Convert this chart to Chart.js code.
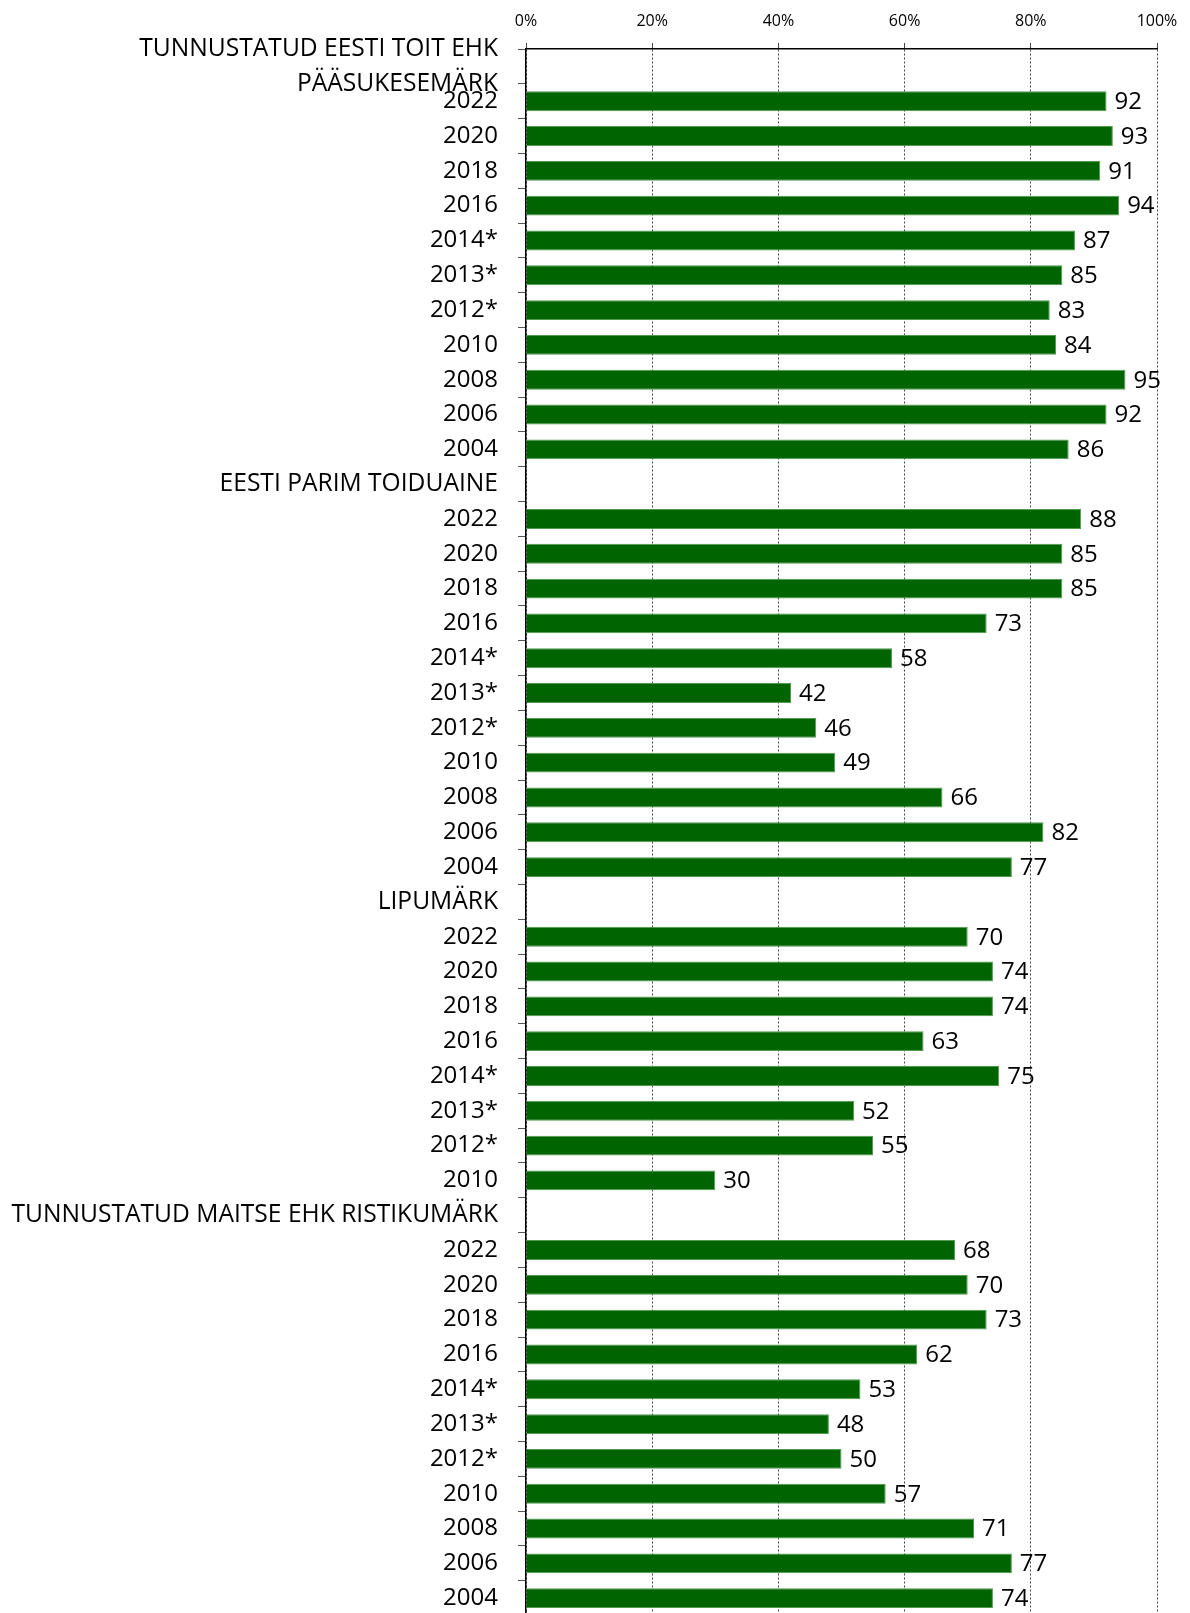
<!DOCTYPE html>
<html>
<head>
<meta charset="utf-8">
<script src="https://cdn.jsdelivr.net/npm/chart.js@4.4.1/dist/chart.umd.min.js"></script>
<style>
html,body{margin:0;padding:0;overflow:hidden;background:#fff;}
canvas{display:block;}
</style>
</head>
<body>
<canvas id="c" width="1190" height="1670"></canvas>
<script>
// Group headers
const groupNames = [
  ["TUNNUSTATUD EESTI TOIT EHK", "PÄÄSUKESEMÄRK"],
  "EESTI PARIM TOIDUAINE",
  "LIPUMÄRK",
  "TUNNUSTATUD MAITSE EHK RISTIKUMÄRK"
];
// Years per group
const years11 = ["2022","2020","2018","2016","2014*","2013*","2012*","2010","2008","2006","2004"];
const years8 = ["2022","2020","2018","2016","2014*","2013*","2012*","2010"];
// Values (%)
const paasukesemark = [92, 93, 91, 94, 87, 85, 83, 84, 95, 92, 86];
const parimToiduaine = [88, 85, 85, 73, 58, 42, 46, 49, 66, 82, 77];
const lipumark = [70, 74, 74, 63, 75, 52, 55, 30];
const ristikumark = [68, 70, 73, 62, 53, 48, 50, 57, 71, 77, 74];
const xTicks = ["0%","20%","40%","60%","80%","100%"];

const groups = [
  {name: groupNames[0], years: years11, vals: paasukesemark},
  {name: groupNames[1], years: years11, vals: parimToiduaine},
  {name: groupNames[2], years: years8, vals: lipumark},
  {name: groupNames[3], years: years11, vals: ristikumark}
];
const labels = [], values = [];
groups.forEach(g => {
  labels.push(g.name); values.push(null);
  g.years.forEach((y, i) => { labels.push(y); values.push(g.vals[i]); });
});

const FONT = "'Open Sans', sans-serif";

const valueLabels = {
  id: 'valueLabels',
  afterDatasetsDraw(chart) {
    const ctx = chart.ctx;
    const meta = chart.getDatasetMeta(0);
    ctx.save();
    ctx.font = "24px " + FONT;
    ctx.fillStyle = "#000";
    ctx.textBaseline = "middle";
    ctx.textAlign = "left";
    meta.data.forEach((bar, i) => {
      const v = values[i];
      if (v === null) return;
      ctx.fillText(String(v), bar.x + 8, bar.y + 1);
    });
    ctx.restore();
  }
};

new Chart(document.getElementById('c'), {
  type: 'bar',
  data: {
    labels: labels,
    datasets: [{
      data: values,
      backgroundColor: '#006400',
      borderColor: '#4f9a4f',
      borderWidth: 1,
      categoryPercentage: 1.0,
      barPercentage: 0.57
    }]
  },
  options: {
    indexAxis: 'y',
    responsive: false,
    animation: false,
    layout: {autoPadding: false, padding: {left: 0, right: 33, top: 0, bottom: 5}},
    plugins: {legend: {display: false}, tooltip: {enabled: false}},
    scales: {
      x: {
        position: 'top',
        min: 0, max: 100,
        afterFit(scale) { scale.height = 49; },
        afterBuildTicks(scale) {
          scale.ticks = xTicks.map((t, i) => ({value: i * 20}));
        },
        ticks: {
          padding: 12,
          color: '#000',
          font: {family: FONT, size: 16},
          maxRotation: 0,
          callback: (v, i) => xTicks[i]
        },
        grid: {
          color: '#444',
          lineWidth: 1,
          tickLength: 6,
          tickColor: '#444',
          drawTicks: true
        },
        border: {display: true, color: '#000', width: 1.5, dash: [2, 2]}
      },
      y: {
        afterFit(scale) { scale.width = 526; },
        ticks: {
          color: '#000',
          padding: 20,
          autoSkip: false,
          font: (c) => ({family: FONT, size: values[c.index] === null ? 24.6 : 24, lineHeight: 1.4})
        },
        grid: {
          offset: true,
          drawOnChartArea: false,
          tickLength: 8,
          tickColor: '#555',
          color: '#555'
        },
        border: {display: true, color: '#000', width: 1.5}
      }
    }
  },
  plugins: [valueLabels]
});
</script>
</body>
</html>
